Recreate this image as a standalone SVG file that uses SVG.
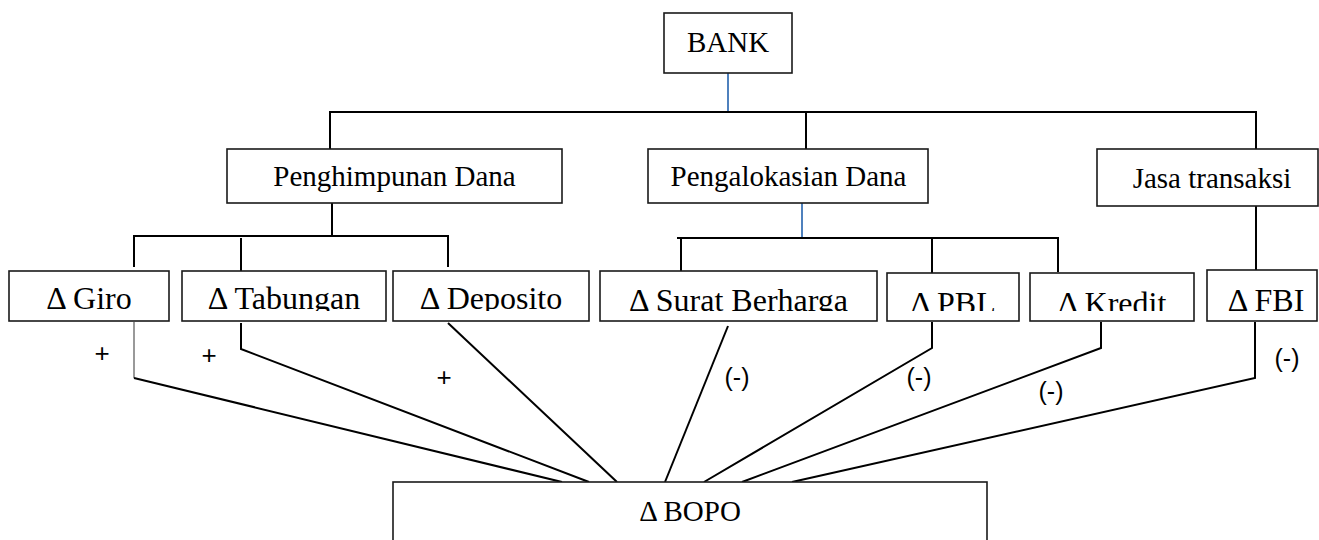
<svg xmlns="http://www.w3.org/2000/svg" width="1319" height="540" viewBox="0 0 1319 540">
  <style>
    .box { fill: #ffffff; stroke: #1a1a1a; stroke-width: 1.6; }
    .t { font-family: "Liberation Serif", "Times New Roman", "DejaVu Serif", serif; fill: #000; text-anchor: middle; }
    .t1 { font-size: 29px; }
    .t2 { font-size: 32px; }
    .lbl { font-family: "Liberation Sans", Arial, sans-serif; font-size: 25px; fill: #000; text-anchor: middle; }
    .plus { font-size: 26px; }
    .ln { fill: none; stroke: #000; stroke-width: 2; }
    .thin { fill: none; stroke: #555; stroke-width: 1.2; }
    .blue { fill: none; stroke: #4f81bd; stroke-width: 2; }
  </style>
  <defs>
    <clipPath id="rowclip">
      <rect x="0" y="260" width="1319" height="51"/>
    </clipPath>
  </defs>
  <rect width="1319" height="540" fill="#ffffff"/>

  <g id="connectors">
    <line class="blue" x1="728" y1="73" x2="728" y2="112"/>
    <polyline class="ln" points="330,149 330,112 1256,112 1256,149"/>
    <line class="ln" x1="806" y1="112" x2="806" y2="149"/>
    <line class="ln" x1="332" y1="203" x2="332" y2="236"/>
    <polyline class="ln" points="134,267 134,236 448,236 448,267"/>
    <line class="ln" x1="241" y1="238" x2="241" y2="271"/>
    <line class="blue" x1="802" y1="203" x2="802" y2="238"/>
    <polyline class="ln" points="681,273 681,238 677,238 1058,238 1058,272"/>
    <line class="ln" x1="932" y1="238" x2="932" y2="273"/>
    <line class="ln" x1="1256" y1="206" x2="1256" y2="270"/>
    <line class="thin" x1="134" y1="322" x2="134" y2="378"/>
    <line class="ln" x1="134" y1="378" x2="562" y2="482"/>
    <polyline class="ln" points="241,323 241,349 589,482"/>
    <line class="ln" x1="448" y1="323" x2="617" y2="482"/>
    <line class="ln" x1="728" y1="326" x2="665" y2="482"/>
    <polyline class="ln" points="932,322 932,348 704,482"/>
    <polyline class="ln" points="1101,322 1101,348 742,482"/>
    <polyline class="ln" points="1255,322 1255,378 792,482"/>
  </g>

  <g id="labels">
    <text class="lbl plus" x="102" y="362">+</text>
    <text class="lbl plus" x="209" y="364">+</text>
    <text class="lbl plus" x="444" y="386">+</text>
    <text class="lbl" x="737" y="386">(-)</text>
    <text class="lbl" x="919" y="386">(-)</text>
    <text class="lbl" x="1051" y="400">(-)</text>
    <text class="lbl" x="1287" y="367">(-)</text>
  </g>

  <g id="node-bank">
    <rect class="box" x="664" y="13" width="128" height="60"/>
    <text class="t t1" x="728" y="52">BANK</text>
  </g>
  <g id="node-penghimpunan">
    <rect class="box" x="227" y="149" width="335" height="54"/>
    <text class="t t1" x="394.5" y="186">Penghimpunan Dana</text>
  </g>
  <g id="node-pengalokasian">
    <rect class="box" x="648" y="149" width="280" height="54"/>
    <text class="t t1" x="788.5" y="186">Pengalokasian Dana</text>
  </g>
  <g id="node-jasa">
    <rect class="box" x="1097" y="149" width="221" height="57"/>
    <text class="t t1" x="1212" y="188">Jasa transaksi</text>
  </g>

  <g id="node-giro">
    <rect class="box" x="9" y="271" width="160" height="50"/>
    <text class="t t2" x="89" y="309" clip-path="url(#rowclip)">Δ Giro</text>
  </g>
  <g id="node-tabungan">
    <rect class="box" x="182" y="271" width="204" height="50"/>
    <text class="t t2" x="284" y="309" clip-path="url(#rowclip)">Δ Tabungan</text>
  </g>
  <g id="node-deposito">
    <rect class="box" x="393" y="271" width="196" height="50"/>
    <text class="t t2" x="491" y="309" clip-path="url(#rowclip)">Δ Deposito</text>
  </g>
  <g id="node-surat">
    <rect class="box" x="600" y="271" width="277" height="50"/>
    <text class="t t2" x="738.5" y="310.5" clip-path="url(#rowclip)">Δ Surat Berharga</text>
  </g>
  <g id="node-pbl">
    <rect class="box" x="887" y="273" width="132" height="48"/>
    <text class="t t2" x="953" y="313.5" clip-path="url(#rowclip)">Δ PBL</text>
  </g>
  <g id="node-kredit">
    <rect class="box" x="1030" y="273" width="164" height="48"/>
    <text class="t t2" x="1112" y="313.5" clip-path="url(#rowclip)">Δ Kredit</text>
  </g>
  <g id="node-fbi">
    <rect class="box" x="1207" y="270" width="110" height="51"/>
    <text class="t t2" x="1266" y="311" clip-path="url(#rowclip)">Δ FBI</text>
  </g>

  <g id="node-bopo">
    <rect class="box" x="393" y="482" width="594" height="70"/>
    <text class="t t1" x="690" y="521">Δ BOPO</text>
  </g>
</svg>
